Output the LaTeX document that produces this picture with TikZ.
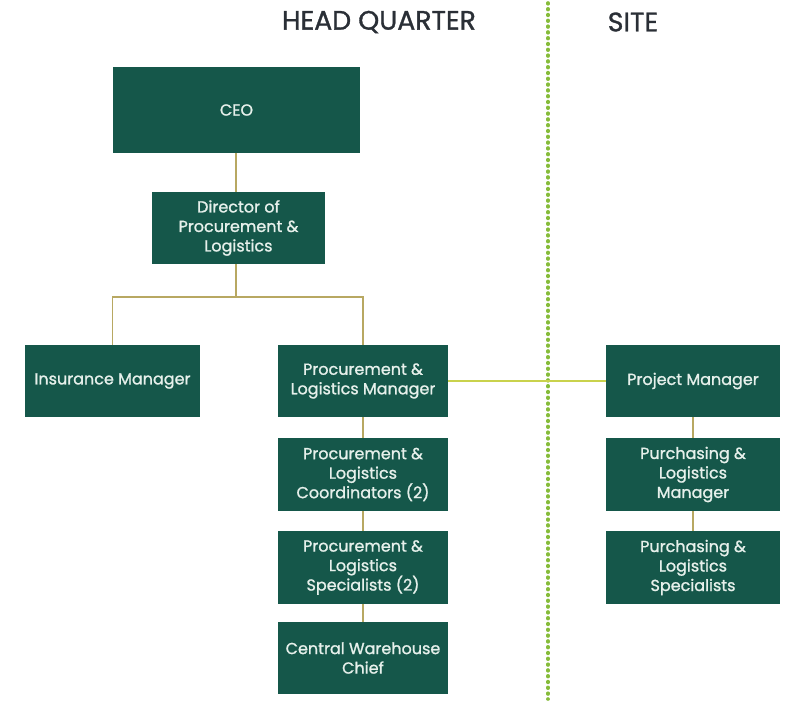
\documentclass[tikz,border=0pt]{standalone}
\usepackage{fontspec}
\setmainfont{Poppins}[BoldFont=Poppins, BoldFeatures={FakeBold=1.2}]
\definecolor{boxgreen}{HTML}{15574A}
\definecolor{boxtext}{HTML}{E6F0EB}
\definecolor{conn}{HTML}{B8A862}
\definecolor{siteconn}{HTML}{C9D24C}
\definecolor{dotgreen}{HTML}{86BC3A}
\definecolor{headtext}{HTML}{2A2F36}
\tikzset{
  orgbox/.style={draw=none, fill=boxgreen, text=boxtext, align=center, inner sep=0pt,
    font=\fontsize{16}{19.5}\selectfont\bfseries},
  conline/.style={draw=conn, line width=1.1pt},
  header/.style={text=headtext, font=\fontsize{26.7}{28}\selectfont\bfseries, inner sep=0pt}
}
\begin{document}
\begin{tikzpicture}[x=1pt,y=-1pt]
\useasboundingbox (0,0) rectangle (795,701);
% dotted separator
\draw[dotgreen, line width=3.6pt, line cap=round, dash pattern=on 0.8pt off 5pt] (548,3) -- (548,699);
% headers
\node[header] (hq) at (379,22) {HEAD QUARTER};
\node[header] (site) at (633,22) {SITE};
% boxes
\node[orgbox, minimum width=247pt, minimum height=86pt] (ceo) at (236.5,110) {CEO};
\node[orgbox, minimum width=173pt, minimum height=72pt] (dir) at (238.5,228) {Director of\\Procurement \&\\Logistics};
\node[orgbox, minimum width=175pt, minimum height=72pt] (ins) at (112.5,381) {Insurance Manager};
\node[orgbox, minimum width=170pt, minimum height=72pt] (plm) at (363,381) {Procurement \&\\Logistics Manager};
\node[orgbox, minimum width=170pt, minimum height=73pt] (plc) at (363,474.5) {Procurement \&\\Logistics\\Coordinators (2)};
\node[orgbox, minimum width=170pt, minimum height=73pt] (pls) at (363,567.5) {Procurement \&\\Logistics\\Specialists (2)};
\node[orgbox, minimum width=170pt, minimum height=72pt] (cwc) at (363,658) {Central Warehouse\\Chief};
\node[orgbox, minimum width=174pt, minimum height=72pt] (pm) at (693,381) {Project Manager};
\node[orgbox, minimum width=174pt, minimum height=73pt] (pum) at (693,474.5) {Purchasing \&\\Logistics\\Manager};
\node[orgbox, minimum width=174pt, minimum height=73pt] (pus) at (693,567.5) {Purchasing \&\\Logistics\\Specialists};
% connectors
\coordinate (split) at (236,297);
\draw[conline] (ceo.south -| split) -- (dir.north -| split);
\draw[conline] (dir.south -| split) -- (split);
\draw[conline] (ins.north) -- (ins.north |- split) -- (plm.north |- split) -- (plm.north);
\draw[conline] (plm.south) -- (plc.north);
\draw[conline] (plc.south) -- (pls.north);
\draw[conline] (pls.south) -- (cwc.north);
\draw[conline] (pm.south) -- (pum.north);
\draw[conline] (pum.south) -- (pus.north);
\draw[siteconn, line width=1.1pt] (plm.east) -- (pm.west);
\end{tikzpicture}
\end{document}
